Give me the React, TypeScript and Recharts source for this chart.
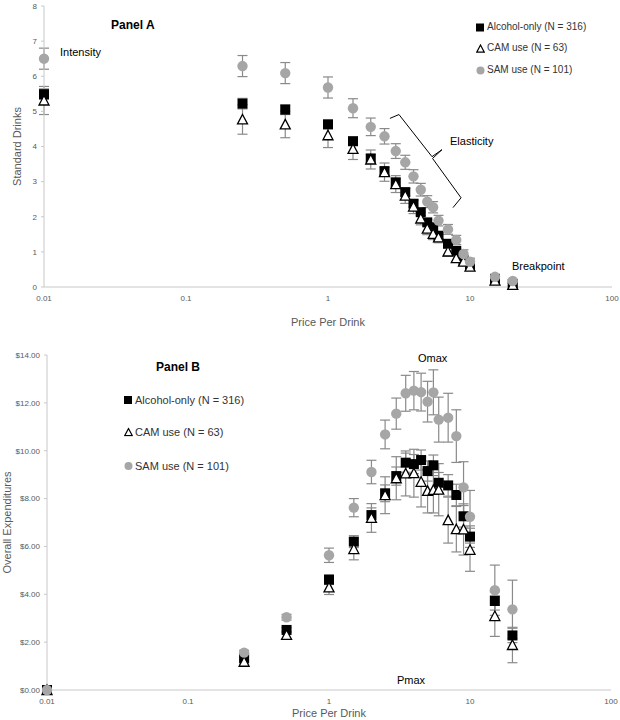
import React from "react";
import { ScatterChart, Scatter, XAxis, YAxis, ErrorBar, ReferenceLine } from "recharts";

const prices = [0.01, 0.25, 0.5, 1, 1.5, 2, 2.5, 3, 3.5, 4, 4.5, 5, 5.5, 6, 7, 8, 9, 10, 15, 20];
const xTicks = [0.01, 0.1, 1, 10, 100];
const yTicksA = [0, 1, 2, 3, 4, 5, 6, 7, 8];
const yTicksB = [0, 2, 4, 6, 8, 10, 12, 14];

// Panel A: standard drinks
const alcoholA = [5.49, 5.22, 5.05, 4.63, 4.15, 3.66, 3.3, 2.98, 2.7, 2.37, 2.13, 1.84, 1.7, 1.46, 1.23, 1.03, 0.77, 0.63, 0.22, 0.08];
const alcoholAErr = [0.15, 0.15, 0.14, 0.12, 0.12, 0.11, 0.1, 0.1, 0.1, 0.09, 0.09, 0.08, 0.08, 0.08, 0.07, 0.07, 0.06, 0.06, 0.04, 0.03];
const camA = [5.31, 4.77, 4.63, 4.32, 3.93, 3.63, 3.27, 2.93, 2.6, 2.29, 1.95, 1.66, 1.51, 1.41, 1.01, 0.82, 0.72, 0.58, 0.18, 0.06];
const camAErr = [0.4, 0.42, 0.38, 0.35, 0.3, 0.27, 0.26, 0.24, 0.22, 0.2, 0.18, 0.17, 0.16, 0.15, 0.13, 0.12, 0.11, 0.1, 0.06, 0.04];
const samA = [6.5, 6.29, 6.09, 5.68, 5.09, 4.56, 4.29, 3.87, 3.55, 3.15, 2.77, 2.43, 2.27, 1.89, 1.64, 1.34, 0.94, 0.72, 0.29, 0.17];
const samAErr = [0.3, 0.3, 0.3, 0.3, 0.27, 0.25, 0.22, 0.21, 0.2, 0.19, 0.18, 0.17, 0.16, 0.15, 0.14, 0.13, 0.12, 0.1, 0.07, 0.05];

// Panel B: overall expenditures
const alcoholB = [0, 1.32, 2.51, 4.61, 6.2, 7.31, 8.22, 8.94, 9.5, 9.44, 9.61, 9.15, 9.39, 8.66, 8.55, 8.15, 7.26, 6.41, 3.72, 2.28];
const alcoholBErr = [0, 0.08, 0.1, 0.2, 0.25, 0.3, 0.35, 0.38, 0.4, 0.4, 0.42, 0.42, 0.43, 0.43, 0.45, 0.45, 0.45, 0.45, 0.38, 0.3];
const camB = [0, 1.18, 2.3, 4.29, 5.89, 7.19, 8.14, 8.85, 9.05, 9.06, 8.7, 8.32, 8.36, 8.37, 7.1, 6.72, 6.71, 5.86, 3.09, 1.88];
const camBErr = [0, 0.12, 0.15, 0.3, 0.45, 0.6, 0.77, 0.9, 0.94, 1.0, 1.05, 0.92, 0.96, 1.09, 0.96, 0.95, 1.07, 0.9, 0.85, 0.74];
const samB = [0, 1.56, 3.04, 5.63, 7.62, 9.11, 10.68, 11.55, 12.4, 12.51, 12.45, 12.05, 12.44, 11.3, 11.38, 10.61, 8.47, 7.24, 4.17, 3.37];
const samBErr = [0, 0.1, 0.12, 0.3, 0.38, 0.49, 0.6, 0.65, 0.75, 0.8, 0.79, 0.85, 0.94, 0.94, 1.02, 1.1, 1.07, 1.1, 1.05, 1.22];

// Elasticity bracket (data coordinates)
const bracketX = [2.73, 3.16, 5.4, 6.35, 5.45, 8.65, 7.59];
const bracketY = [4.8, 4.91, 3.71, 3.91, 3.66, 2.54, 2.26];

const seriesNames = ["Alcohol-only (N = 316)", "CAM use (N = 63)", "SAM use (N = 101)"];

const build = (vals: number[], errs: number[]) => prices.map((p, i) => ({ x: p, y: vals[i], err: errs[i] }));

const FONT = "'Liberation Sans', Arial, sans-serif";
const GRAY = "#a6a6a6";
const ERR = "#8a8a8a";
const AXIS = "#c8c8c8";
const TICK = "#595959";

const Square = (p: any) => <rect x={p.cx - 5} y={p.cy - 5} width={10} height={10} fill="#000" />;
const Tri = (p: any) => (
  <path d={`M${p.cx},${p.cy - 5} L${p.cx + 5},${p.cy + 4.5} L${p.cx - 5},${p.cy + 4.5} Z`} fill="#fff" stroke="#000" strokeWidth={1.3} />
);
const Dot = (p: any) => <circle cx={p.cx} cy={p.cy} r={5.2} fill={GRAY} />;

const fmtX = (v: number) => String(v);

const LegendIcon = ({ kind }: { kind: number }) => (
  <svg width={9} height={9} style={{ marginRight: 2, display: "inline-block", verticalAlign: "middle" }}>
    {kind === 0 && <rect x={0} y={0.5} width={8} height={8} fill="#000" />}
    {kind === 1 && <path d="M4.5,1 L8.3,8.2 L0.7,8.2 Z" fill="#fff" stroke="#000" strokeWidth={1.2} />}
    {kind === 2 && <circle cx={4.5} cy={4.5} r={4} fill={GRAY} />}
  </svg>
);

const Note = ({ x, y, text, size = 11, bold = false }: any) => (
  <div
    style={{
      position: "absolute",
      left: x,
      top: y,
      transform: "translateY(-50%)",
      fontFamily: FONT,
      fontSize: size,
      fontWeight: bold ? "bold" : "normal",
      lineHeight: 1,
      whiteSpace: "nowrap",
      color: "#000",
    }}
  >
    {text}
  </div>
);

const Legend = ({ x, ys, size }: any) => (
  <>
    {seriesNames.map((n, i) => (
      <div
        key={n}
        style={{
          position: "absolute",
          left: x,
          top: ys[i],
          transform: "translateY(-50%)",
          fontFamily: FONT,
          fontSize: size,
          lineHeight: 1,
          whiteSpace: "nowrap",
          color: "#333",
          display: "flex",
          alignItems: "center",
        }}
      >
        <LegendIcon kind={i} />
        {n}
      </div>
    ))}
  </>
);

const yLabel = (text: string, cx: number) => (props: any) => {
  const vb = props.viewBox;
  const cy = vb.y + vb.height / 2;
  return (
    <text x={cx} y={cy} transform={`rotate(-90, ${cx}, ${cy})`} textAnchor="middle" dominantBaseline="central" fill={TICK} fontSize={11} fontFamily={FONT}>
      {text}
    </text>
  );
};

const xLabel = (text: string, dy: number) => (props: any) => {
  const vb = props.viewBox;
  return (
    <text x={vb.x + vb.width / 2} y={vb.y + dy} textAnchor="middle" fill={TICK} fontSize={11} fontFamily={FONT}>
      {text}
    </text>
  );
};

const tickStyle = { fontSize: 8, fill: TICK, fontFamily: FONT };

export default function App() {
  const dataA = [build(alcoholA, alcoholAErr), build(camA, camAErr), build(samA, samAErr)];
  const dataB = [build(alcoholB, alcoholBErr), build(camB, camBErr), build(samB, samBErr)];
  const shapes = [Square, Tri, Dot];
  const bracketSegs = bracketX.slice(0, -1).map((_, i) => i).filter((i) => i !== 3).map((i) => [
    { x: bracketX[i], y: bracketY[i] },
    { x: bracketX[i + 1], y: bracketY[i + 1] },
  ]);
  // cusp: 3->4 goes back from the tip; add the tip segment from point 2 to 3 already included; add 4->5 as well
  return (
    <div style={{ position: "absolute", left: 0, top: 0, width: 620, height: 720, background: "#fff" }}>
      <ScatterChart width={620} height={335} margin={{ top: 6, right: 8, left: 0, bottom: 8 }}>
        <XAxis
          dataKey="x"
          type="number"
          scale="log"
          domain={[0.01, 100]}
          ticks={xTicks}
          tickFormatter={fmtX}
          tick={tickStyle}
          tickLine={false}
          axisLine={{ stroke: AXIS }}
          height={40}
          label={{ content: xLabel("Price Per Drink", 39) }}
        />
        <YAxis
          dataKey="y"
          type="number"
          domain={[0, 8]}
          ticks={yTicksA}
          tick={tickStyle}
          tickSize={3}
          tickMargin={4}
          tickLine={{ stroke: AXIS }}
          axisLine={{ stroke: AXIS }}
          width={44}
          label={{ content: yLabel("Standard Drinks", 17) }}
        />
        {bracketSegs.map((s, i) => (
          <ReferenceLine key={"b" + i} segment={s} stroke="#000" strokeWidth={1} />
        ))}
        <ReferenceLine segment={[{ x: bracketX[3], y: bracketY[3] }, { x: bracketX[4], y: bracketY[4] }]} stroke="#000" strokeWidth={1} />
        {dataA.map((d, i) => (
          <Scatter key={i} data={d} shape={shapes[i]} isAnimationActive={false}>
            <ErrorBar dataKey="err" direction="y" width={5} stroke={ERR} strokeWidth={1.2} />
          </Scatter>
        ))}
      </ScatterChart>
      <ScatterChart width={620} height={385} margin={{ top: 20, right: 9, left: 0, bottom: 0 }}>
        <XAxis
          dataKey="x"
          type="number"
          scale="log"
          domain={[0.01, 100]}
          ticks={xTicks}
          tickFormatter={fmtX}
          tick={tickStyle}
          tickLine={false}
          axisLine={{ stroke: AXIS }}
          height={30}
          label={{ content: xLabel("Price Per Drink", 27) }}
        />
        <YAxis
          dataKey="y"
          type="number"
          domain={[0, 14]}
          ticks={yTicksB}
          tickFormatter={(v: number) => `$${v.toFixed(2)}`}
          tick={tickStyle}
          tickSize={3}
          tickMargin={4}
          tickLine={{ stroke: AXIS }}
          axisLine={{ stroke: AXIS }}
          width={47}
          label={{ content: yLabel("Overall Expenditures", 7) }}
        />
        {dataB.map((d, i) => (
          <Scatter key={i} data={d} shape={shapes[i]} isAnimationActive={false}>
            <ErrorBar dataKey="err" direction="y" width={5} stroke={ERR} strokeWidth={1.2} />
          </Scatter>
        ))}
      </ScatterChart>

      <Note x={111} y={25} text="Panel A" size={12} bold />
      <Note x={60} y={52} text="Intensity" />
      <Legend x={476} ys={[27, 48, 70]} size={10} />
      <Note x={450} y={141} text="Elasticity" />
      <Note x={512} y={266} text="Breakpoint" />

      <Note x={156} y={367} text="Panel B" size={12} bold />
      <Legend x={124} ys={[400, 432, 466]} size={11} />
      <Note x={418} y={358} text="Omax" />
      <Note x={397} y={680} text="Pmax" />
    </div>
  );
}
